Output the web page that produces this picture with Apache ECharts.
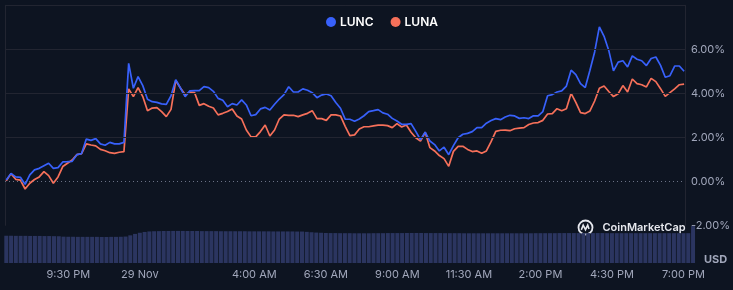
<!DOCTYPE html>
<html><head><meta charset="utf-8">
<script src="https://cdn.jsdelivr.net/npm/echarts@6/dist/echarts.min.js"></script>
<style>html,body{margin:0;padding:0;background:#0d1421;}#c{width:733px;height:290px;}</style>
</head><body><div id="c"></div>
<script>
const seriesNames = ['LUNC', 'LUNA'];
const startHour = 19 + 20 / 60;   // 28 Nov 7:20 PM
const stepHours = 10 / 60;        // 10-minute samples
const lunc = [
  0.06, 0.36, 0.20, 0.18, -0.14, 0.29, 0.52, 0.59, 0.71, 0.82,
  0.59, 0.62, 0.88, 0.89, 0.91, 1.21, 1.26, 1.92, 1.86, 1.94,
  1.70, 1.64, 1.77, 1.70, 1.70, 1.77, 5.36, 4.23, 4.76,
  4.35, 3.73, 3.62, 3.59, 3.52, 3.50, 3.89, 4.62, 4.24, 3.85,
  4.11, 4.12, 4.12, 4.30, 4.26, 4.09, 3.77, 3.68, 3.39, 3.53,
  3.47, 3.70, 3.47, 2.98, 3.03, 3.29, 3.36, 3.24, 3.50,
  3.74, 3.94, 4.30, 4.06, 4.06, 4.20, 4.14, 4.03, 3.80, 3.92,
  3.97, 3.89, 3.58, 3.32, 2.83, 2.82, 2.73, 2.83, 2.98, 3.17,
  3.21, 3.26, 3.11, 3.05, 2.86, 2.74, 2.59, 2.59, 2.62,
  2.27, 1.89, 2.23, 1.83, 1.67, 1.38, 1.55, 1.21, 1.62, 1.98,
  2.14, 2.18, 2.26, 2.44, 2.44, 2.64, 2.76, 2.85, 2.80, 2.92,
  3.00, 2.97, 2.86, 2.89, 2.85, 2.98, 2.97, 3.17,
  3.89, 3.94, 4.06, 4.11, 4.33, 5.05, 4.85, 4.44, 4.26, 5.05,
  5.88, 7.02, 6.59, 5.95, 5.02, 5.42, 5.48, 5.20, 5.70, 5.55,
  5.48, 5.26, 5.58, 5.65, 5.27, 4.73, 4.80, 5.24, 5.24, 5.00
];
const luna = [
  0.02, 0.35, 0.09, 0.05, -0.35, -0.09, 0.08, 0.20, 0.44, 0.26,
  -0.09, 0.20, 0.67, 0.82, 0.97, 1.21, 1.26, 1.70, 1.65, 1.61,
  1.45, 1.39, 1.30, 1.27, 1.32, 1.35, 4.20, 3.85, 4.26,
  3.85, 3.21, 3.33, 3.35, 3.17, 2.94, 3.27, 4.58, 4.24, 3.95,
  4.05, 4.03, 3.45, 3.53, 3.41, 3.33, 3.02, 3.09, 3.17, 3.29,
  2.97, 2.83, 2.33, 2.02, 2.02, 2.26, 2.56, 2.06, 2.33,
  2.83, 3.02, 3.00, 3.00, 2.94, 3.02, 3.09, 3.21, 2.85, 2.85,
  2.77, 3.02, 3.02, 2.97, 2.50, 2.08, 2.11, 2.38, 2.48, 2.48,
  2.52, 2.55, 2.55, 2.53, 2.44, 2.62, 2.47, 2.56, 2.23,
  1.98, 1.83, 2.23, 1.53, 1.38, 1.17, 1.03, 0.68, 1.36, 1.59,
  1.59, 1.45, 1.35, 1.38, 1.27, 1.38, 1.80, 2.27, 2.32, 2.33,
  2.30, 2.39, 2.42, 2.44, 2.58, 2.65, 2.67, 2.77,
  3.06, 3.08, 3.30, 3.21, 3.30, 4.00, 3.59, 3.12, 3.08, 3.20,
  3.65, 4.23, 4.33, 4.08, 3.85, 3.98, 4.35, 4.06, 4.65, 4.44,
  4.39, 4.29, 4.68, 4.53, 4.21, 3.86, 4.03, 4.20, 4.39, 4.42
];
const volume = [
  26.6,26.6,26.5,26.5,26.5,26.4,26.4,26.4,26.3,26.3,26.2,26.1,
  25.7,25.6,25.6,25.5,25.5,25.5,25.5,25.5,25.4,25.4,25.5,25.5,25.6,25.8,
  27.0,28.4,29.5,30.3,
  30.8,31.0,31.1,31.2,31.2,31.3,31.3,31.3,31.2,31.2,31.2,31.1,31.1,31.1,31.1,31.0,31.0,
  31.0,31.0,31.0,31.0,30.9,30.9,30.9,30.9,30.9,30.8,30.8,30.8,30.8,30.8,30.7,30.7,
  30.4,30.0,29.7,29.5,29.3,
  29.2,29.2,29.1,29.1,29.1,29.0,29.0,29.0,29.0,29.1,29.1,29.1,29.2,29.2,29.2,29.2,29.3,29.3,29.3,29.3,
  29.2,29.2,29.2,29.2,29.1,29.1,29.1,29.1,29.0,29.0,29.0,29.0,29.0,29.0,29.0,29.0,29.0,29.0,29.0,29.0,
  29.0,29.0,29.0,29.1,29.1,29.1,29.1,29.1,29.2,29.2,29.2,29.2,29.2,29.2,29.2,29.2,29.2,29.2,
  29.1,29.1,29.1,29.1,29.1,29.1,29.1,29.1,29.1,29.1,29.1,29.1,29.1,29.1,29.1,29.1,29.1,29.1,
  36.0
];
const tickHours = [21.5, 24, 28, 30.5, 33, 35.5, 38, 40.5, 43];
const tickLabels = ['9:30 PM', '29 Nov', '4:00 AM', '6:30 AM', '9:00 AM', '11:30 AM', '2:00 PM', '4:30 PM', '7:00 PM'];
const gridLevels = [8, 6, 4, 2];
const zeroLevel = 0;

const xMin = 19.288, xMax = 43.367;
const pairs = arr => arr.map((v, i) => [startHour + i * stepHours, v]);
const labelColor = '#a1a7bb';
const gridColor = '#222531';

const chart = echarts.init(document.getElementById('c'), null, {renderer: 'canvas'});
chart.setOption({
  backgroundColor: '#0d1421',
  animation: false,
  textStyle: {fontFamily: 'Inter'},
  legend: {
    data: seriesNames,
    left: 321, top: 11,
    icon: 'circle', itemWidth: 10, itemHeight: 10, itemGap: 17,
    textStyle: {color: '#ffffff', fontSize: 12, fontWeight: 600, fontFamily: 'Inter', padding: [0, 0, 0, -1]}
  },
  grid: [
    {left: 5, right: 39, top: 5.3, bottom: 64.7},
    {left: 5, right: 39, top: 222, bottom: 27}
  ],
  xAxis: [
    {gridIndex: 0, type: 'value', min: xMin, max: xMax, show: false},
    {gridIndex: 1, type: 'value', min: xMin, max: xMax,
     axisLine: {show: false}, axisTick: {show: false}, splitLine: {show: false},
     axisLabel: {
       customValues: tickHours, margin: 6, color: labelColor, fontSize: 11, fontFamily: 'Inter',
       formatter: v => { const k = tickHours.findIndex(h => Math.abs(h - v) < 1e-6); return k >= 0 ? tickLabels[k] : ''; }
     }}
  ],
  yAxis: [
    {gridIndex: 0, type: 'value', position: 'right', min: -2, max: 8, interval: 2,
     axisLine: {show: true, onZero: false, lineStyle: {color: gridColor, width: 1}},
     axisTick: {show: false}, splitLine: {show: false},
     axisLabel: {showMaxLabel: false, margin: 6, color: labelColor, fontSize: 11, fontFamily: 'Inter',
       formatter: v => v.toFixed(2) + '%'}},
    {gridIndex: 0, type: 'value', position: 'left', min: -2, max: 8, interval: 2,
     axisLine: {show: true, onZero: false, lineStyle: {color: gridColor, width: 1}},
     axisTick: {show: false}, splitLine: {show: false}, axisLabel: {show: false}},
    {gridIndex: 1, type: 'value', min: 0, max: 40, show: false}
  ],
  series: [
    {
      name: 'grid', type: 'line', xAxisIndex: 0, yAxisIndex: 0, data: [], z: 1, silent: true,
      markLine: {
        silent: true, symbol: ['none', 'none'], label: {show: false},
        data: gridLevels.map(l => ({yAxis: l, lineStyle: {color: gridColor, width: 1, type: 'solid'}}))
          .concat([{yAxis: zeroLevel, lineStyle: {color: '#6b7286', width: 1, type: [1, 3]}}])
      }
    },
    {
      name: 'volume', type: 'bar', xAxisIndex: 1, yAxisIndex: 2, data: pairs(volume),
      barWidth: 4, itemStyle: {color: '#2b3560'}, silent: true, z: 1
    },
    {
      name: 'LUNC', type: 'line', xAxisIndex: 0, yAxisIndex: 0, data: pairs(lunc),
      showSymbol: false, symbol: 'circle', lineStyle: {color: '#3861fb', width: 1.7},
      itemStyle: {color: '#3861fb'}, z: 4
    },
    {
      name: 'LUNA', type: 'line', xAxisIndex: 0, yAxisIndex: 0, data: pairs(luna),
      showSymbol: false, symbol: 'circle', lineStyle: {color: '#f6705a', width: 1.7},
      itemStyle: {color: '#f6705a'}, z: 3
    }
  ],
  graphic: [
    {type: 'group', left: 576, top: 218, silent: true, children: [
      {type: 'circle', shape: {cx: 8, cy: 8, r: 7}, style: {fill: 'none', stroke: '#e6e8ee', lineWidth: 1.8}},
      {type: 'polyline', shape: {points: [[3.8, 10.4], [5.7, 5.6], [8, 10.1], [10.2, 5.6], [11.5, 9.5]]},
       style: {fill: 'none', stroke: '#e6e8ee', lineWidth: 1.6}},
      {type: 'text', x: 25, y: 8.5, style: {text: 'CoinMarketCap', fill: '#e6e8ee', font: '600 11px Inter', textVerticalAlign: 'middle'}}
    ]},
    {type: 'text', left: 704, top: 254, silent: true,
     style: {text: 'USD', fill: labelColor, font: 'bold 11px Inter'}}
  ]
});
</script></body></html>
